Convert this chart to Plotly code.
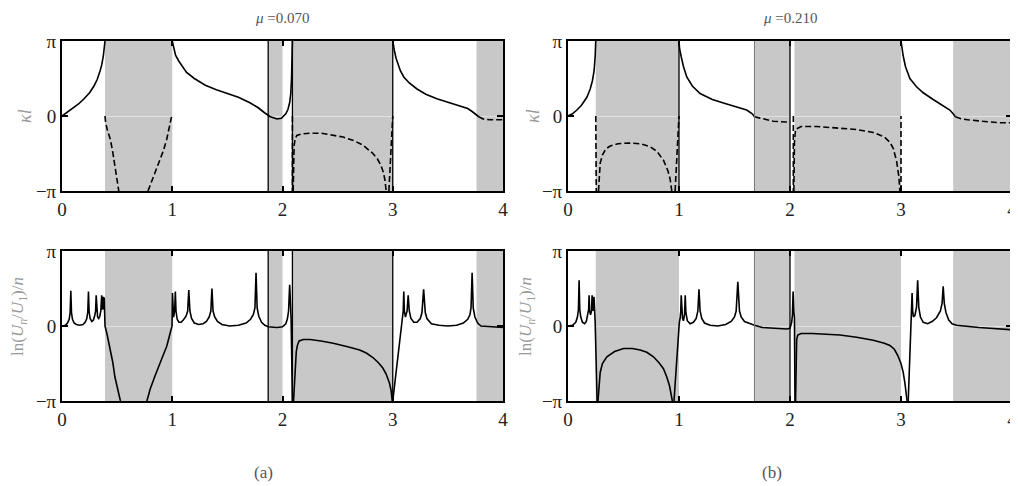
import plotly.graph_objects as go

# ---------------- data (y values in units of pi) ----------------
a_bands = [(0.39, 1.0), (1.87, 2.0), (2.09, 3.0), (3.76, 4.0)]
b_bands = [(0.25, 1.0), (1.68, 2.0), (2.04, 3.0), (3.47, 4.0)]
a_edges_black = [1.87, 2.09, 3.0]
b_edges_black_top = [1.0, 2.0]
b_edges_black_bot = [2.0]
b_edges_gray = [1.68]

a_kl_solid = [
    [(0, 0), (0.05, 0.05), (0.10, 0.10), (0.15, 0.16), (0.20, 0.23), (0.25, 0.31), (0.29, 0.40),
     (0.32, 0.49), (0.345, 0.60), (0.36, 0.68), (0.375, 0.80), (0.385, 0.91), (0.39, 1.0)],
    [(1.0, 1.0), (1.01, 0.92), (1.03, 0.81), (1.06, 0.73), (1.09, 0.66), (1.13, 0.58), (1.2, 0.50),
     (1.25, 0.45), (1.3, 0.41), (1.4, 0.35), (1.5, 0.30), (1.6, 0.25), (1.7, 0.18), (1.78, 0.11),
     (1.84, 0.04), (1.89, -0.01), (1.95, -0.04), (1.99, -0.03), (2.03, 0.03), (2.05, 0.09),
     (2.065, 0.18), (2.075, 0.3), (2.082, 0.5), (2.087, 0.75), (2.09, 1.0)],
    [(3.0, 1.0), (3.005, 0.95), (3.015, 0.87), (3.03, 0.77), (3.05, 0.67), (3.07, 0.6), (3.1, 0.52),
     (3.15, 0.44), (3.22, 0.36), (3.3, 0.29), (3.4, 0.23), (3.5, 0.18), (3.6, 0.14), (3.68, 0.10),
     (3.72, 0.06), (3.75, 0.02), (3.78, -0.01)],
]
a_kl_dash = [
    [(0.39, 0.0), (0.395, -0.08), (0.41, -0.18), (0.44, -0.32), (0.46, -0.48), (0.48, -0.66),
     (0.50, -0.84), (0.515, -1.0)],
    [(0.78, -1.0), (0.82, -0.85), (0.86, -0.71), (0.89, -0.59), (0.92, -0.46), (0.95, -0.31),
     (0.975, -0.15), (0.995, 0.0)],
    [(2.09, 0.0), (2.09, -1.0)],
    [(2.097, -1.0), (2.10, -0.6), (2.105, -0.4), (2.115, -0.30), (2.13, -0.26), (2.17, -0.24),
     (2.25, -0.23), (2.35, -0.23), (2.45, -0.25), (2.55, -0.28), (2.65, -0.33), (2.73, -0.39),
     (2.82, -0.50), (2.86, -0.57), (2.89, -0.65), (2.915, -0.75), (2.93, -0.86), (2.94, -1.0)],
    [(2.965, -1.0), (2.98, -0.6), (2.992, -0.3), (3.0, 0.0)],
    [(3.78, -0.01), (3.82, -0.04), (3.88, -0.05), (4.0, -0.05)],
]
a_ln = [
    [(0.00, 0.00), (0.03, 0.01), (0.05, 0.04), (0.065, 0.09), (0.074, 0.18), (0.080, 0.47), (0.086, 0.18),
     (0.095, 0.09), (0.11, 0.04), (0.13, 0.02), (0.16, 0.01), (0.19, 0.02), (0.21, 0.05), (0.225, 0.10),
     (0.234, 0.19), (0.240, 0.46), (0.246, 0.19), (0.255, 0.10), (0.27, 0.06), (0.285, 0.08),
     (0.297, 0.14), (0.305, 0.20), (0.310, 0.41), (0.315, 0.20), (0.323, 0.12), (0.333, 0.10),
     (0.343, 0.13), (0.352, 0.20), (0.360, 0.41), (0.365, 0.22), (0.370, 0.24), (0.375, 0.39),
     (0.379, 0.22), (0.383, 0.38), (0.386, 0.25), (0.390, 0.00), (0.41, -0.12), (0.435, -0.28),
     (0.46, -0.48), (0.48, -0.68), (0.505, -0.86), (0.53, -1.00)],
    [(0.77, -1.0), (0.80, -0.84), (0.84, -0.68), (0.88, -0.52), (0.92, -0.38), (0.95, -0.27),
     (0.975, -0.14), (0.99, -0.05), (0.998, 0.0), (1.002, 0.44), (1.006, 0.15), (1.012, 0.12),
     (1.022, 0.2), (1.028, 0.46), (1.034, 0.2), (1.045, 0.09), (1.06, 0.05), (1.08, 0.05), (1.10, 0.08),
     (1.125, 0.13), (1.14, 0.2), (1.15, 0.48), (1.16, 0.2), (1.175, 0.1), (1.20, 0.04), (1.24, 0.02),
     (1.28, 0.03), (1.31, 0.06), (1.335, 0.12), (1.35, 0.2), (1.36, 0.50), (1.37, 0.2), (1.385, 0.12),
     (1.41, 0.06), (1.45, 0.02), (1.52, 0.0), (1.60, 0.01), (1.67, 0.04), (1.71, 0.09), (1.735, 0.15),
     (1.75, 0.24), (1.76, 0.71), (1.77, 0.24), (1.785, 0.13), (1.81, 0.05), (1.84, 0.01), (1.87, -0.01),
     (1.95, -0.02), (2.00, -0.01), (2.03, 0.03), (2.045, 0.1), (2.055, 0.2), (2.065, 0.55),
     (2.072, 0.25), (2.078, 0.1), (2.09, -1.0)],
    [(2.10, -1.0), (2.115, -0.55), (2.125, -0.34), (2.135, -0.26), (2.15, -0.2), (2.19, -0.18),
     (2.25, -0.18), (2.35, -0.2), (2.46, -0.23), (2.6, -0.28), (2.7, -0.32), (2.76, -0.36), (2.82, -0.42),
     (2.87, -0.49), (2.91, -0.56), (2.94, -0.64), (2.97, -0.76), (2.985, -0.86), (2.995, -1.0)],
    [(3.0, -1.0), (3.03, -0.6), (3.06, -0.25), (3.08, 0.05), (3.09, 0.12), (3.095, 0.2), (3.10, 0.46),
     (3.105, 0.2), (3.115, 0.12), (3.13, 0.2), (3.14, 0.41), (3.15, 0.2), (3.165, 0.1), (3.19, 0.05),
     (3.22, 0.05), (3.25, 0.1), (3.265, 0.18), (3.28, 0.49), (3.295, 0.18), (3.31, 0.1), (3.35, 0.03),
     (3.42, 0.01), (3.5, 0.0), (3.58, 0.01), (3.64, 0.04), (3.68, 0.09), (3.70, 0.15), (3.71, 0.24),
     (3.72, 0.71), (3.73, 0.24), (3.745, 0.12), (3.77, 0.04), (3.80, 0.0), (3.9, -0.01), (4.0, -0.02)],
]

b_kl_solid = [
    [(0, 0), (0.04, 0.03), (0.08, 0.08), (0.12, 0.14), (0.17, 0.25), (0.2, 0.36), (0.22, 0.47),
     (0.235, 0.6), (0.245, 0.8), (0.25, 1.0)],
    [(1.0, 1.0), (1.005, 0.9), (1.02, 0.79), (1.04, 0.66), (1.07, 0.52), (1.12, 0.40), (1.19, 0.30),
     (1.3, 0.22), (1.43, 0.16), (1.52, 0.12), (1.61, 0.08), (1.66, 0.03), (1.68, -0.01)],
    [(3.0, 1.0), (3.005, 0.93), (3.02, 0.8), (3.04, 0.66), (3.08, 0.5), (3.14, 0.39), (3.2, 0.31),
     (3.29, 0.22), (3.37, 0.15), (3.44, 0.08), (3.47, 0.03), (3.49, -0.01)],
]
b_kl_dash = [
    [(0.25, 0.0), (0.255, -1.0)],
    [(0.275, -1.0), (0.28, -0.8), (0.29, -0.63), (0.31, -0.52), (0.34, -0.44), (0.38, -0.40),
     (0.45, -0.37), (0.55, -0.36), (0.65, -0.37), (0.74, -0.41), (0.8, -0.47), (0.86, -0.59),
     (0.9, -0.73), (0.92, -0.84), (0.935, -1.0)],
    [(0.965, -1.0), (0.98, -0.6), (0.995, -0.2), (1.0, 0.0)],
    [(1.68, -0.01), (1.73, -0.03), (1.79, -0.05), (1.85, -0.07), (1.97, -0.08), (2.0, -0.08)],
    [(2.03, 0.0), (2.03, -1.0)],
    [(2.035, -1.0), (2.04, -0.35), (2.05, -0.18), (2.1, -0.14), (2.24, -0.14), (2.45, -0.16),
     (2.6, -0.18), (2.75, -0.22), (2.85, -0.28), (2.9, -0.35), (2.93, -0.43), (2.96, -0.6),
     (2.98, -0.8), (2.99, -1.0)],
    [(3.0, -1.0), (3.0, 0.0)],
    [(3.49, -0.01), (3.55, -0.04), (3.6, -0.05), (3.7, -0.07), (3.8, -0.08), (3.9, -0.09), (4.0, -0.09)],
]
b_ln = [
    [(0.0, 0.0), (0.04, 0.01), (0.07, 0.05), (0.085, 0.12), (0.094, 0.22), (0.10, 0.61), (0.106, 0.22),
     (0.115, 0.12), (0.13, 0.05), (0.15, 0.03), (0.165, 0.06), (0.178, 0.14), (0.186, 0.22), (0.19, 0.41),
     (0.195, 0.2), (0.203, 0.15), (0.212, 0.2), (0.217, 0.41), (0.222, 0.2), (0.228, 0.2), (0.234, 0.39),
     (0.238, 0.22), (0.242, 0.3), (0.245, 0.05), (0.262, -1.0)],
    [(0.27, -1.0), (0.28, -0.78), (0.29, -0.62), (0.31, -0.50), (0.35, -0.41), (0.42, -0.34), (0.5, -0.30),
     (0.58, -0.30), (0.65, -0.32), (0.71, -0.35), (0.77, -0.41), (0.82, -0.49), (0.86, -0.57),
     (0.89, -0.68), (0.915, -0.8), (0.93, -0.92), (0.94, -1.0)],
    [(0.955, -1.0), (0.97, -0.62), (0.985, -0.3), (0.998, 0.0), (1.003, 0.05), (1.01, 0.1), (1.016, 0.2),
     (1.02, 0.41), (1.025, 0.2), (1.032, 0.1), (1.04, 0.07), (1.05, 0.15), (1.056, 0.41), (1.062, 0.18),
     (1.075, 0.07), (1.1, 0.03), (1.13, 0.05), (1.155, 0.1), (1.17, 0.2), (1.18, 0.49), (1.19, 0.2),
     (1.205, 0.1), (1.23, 0.04), (1.28, 0.01), (1.35, 0.0), (1.42, 0.02), (1.47, 0.06), (1.5, 0.12),
     (1.515, 0.2), (1.53, 0.59), (1.545, 0.2), (1.56, 0.12), (1.59, 0.06), (1.64, 0.03), (1.68, 0.01),
     (1.75, -0.02), (1.85, -0.03), (1.97, -0.04), (2.0, -0.03), (2.015, 0.05), (2.022, 0.15),
     (2.028, 0.46), (2.034, 0.2), (2.04, 0.1), (2.045, -1.0)],
    [(2.05, -1.0), (2.055, -0.5), (2.06, -0.18), (2.07, -0.12), (2.1, -0.1), (2.2, -0.1), (2.3, -0.11),
     (2.45, -0.12), (2.6, -0.15), (2.75, -0.19), (2.85, -0.23), (2.9, -0.26), (2.94, -0.31),
     (2.97, -0.39), (3.0, -0.5), (3.02, -0.62), (3.035, -0.76), (3.045, -0.88), (3.055, -1.0)],
    [(3.065, -1.0), (3.075, -0.5), (3.085, 0.02), (3.09, 0.1), (3.095, 0.2), (3.10, 0.44), (3.105, 0.2),
     (3.112, 0.12), (3.125, 0.14), (3.14, 0.25), (3.15, 0.61), (3.16, 0.25), (3.175, 0.12), (3.2, 0.05),
     (3.24, 0.03), (3.28, 0.06), (3.32, 0.11), (3.355, 0.2), (3.37, 0.3), (3.38, 0.53), (3.39, 0.3),
     (3.405, 0.18), (3.43, 0.08), (3.46, 0.03), (3.5, 0.01), (3.6, -0.01), (3.7, -0.02), (3.8, -0.03),
     (3.9, -0.04), (4.0, -0.05)],
]

x_ticks = [0, 1, 2, 3, 4]
y_ticks = [-1, 0, 1]
y_ticktext = ["\u2212\u03c0", "0", "\u03c0"]
titles = ["<i>\u03bc</i> =0.070", "<i>\u03bc</i> =0.210"]
captions = ["(a)", "(b)"]

# ---------------- figure ----------------
W, H = 1018, 486
OFF = 8  # page body margin of the rendering browser
SERIF = "Liberation Serif, DejaVu Serif, serif"
GRAY = "#c8c8c8"


def fx(px):
    return (px - OFF) / W


def fy(py):
    return 1 - (py - OFF) / H


panels = {
    "aTop": ((62, 503), (41, 191)),
    "bTop": ((568, 1012), (41, 191)),
    "aBot": ((62, 503), (251, 401)),
    "bBot": ((568, 1012), (251, 401)),
}
order = ["aTop", "bTop", "aBot", "bBot"]

fig = go.Figure()
layout = dict(width=W, height=H, margin=dict(l=0, r=0, t=0, b=0, pad=0, autoexpand=False),
              template="none",
              paper_bgcolor="white", plot_bgcolor="white", showlegend=False,
              font=dict(family=SERIF, color="#222"))
shapes = []
annotations = []


def flatten(segs):
    xs, ys = [], []
    for s in segs:
        for p in s:
            xs.append(p[0])
            ys.append(p[1])
        xs.append(None)
        ys.append(None)
    return xs, ys


for i, name in enumerate(order):
    k = "" if i == 0 else str(i + 1)
    (x0, x1), (yt, yb) = panels[name]
    layout["xaxis" + k] = dict(domain=[fx(x0), fx(x1)], range=[0, 4], anchor="y" + k,
                               automargin=False,
                               tickvals=x_ticks, ticks="inside", ticklen=5, tickwidth=1.5,
                               tickcolor="black", showline=True, linecolor="black", linewidth=2,
                               mirror="allticks", showgrid=False, zeroline=False,
                               ticklabeloverflow="allow",
                               tickfont=dict(family=SERIF, size=19, color="#222"))
    layout["yaxis" + k] = dict(domain=[fy(yb), fy(yt)], range=[-1, 1], anchor="x" + k,
                               automargin=False,
                               tickvals=y_ticks, ticktext=y_ticktext, ticks="inside", ticklen=6,
                               tickwidth=1.5, tickcolor="black", showline=True, linecolor="black",
                               linewidth=2, mirror="allticks", showgrid=False, zeroline=True,
                               zerolinecolor="rgba(255,255,255,0.45)", zerolinewidth=1,
                               tickfont=dict(family=SERIF, size=19, color="#222"))
    xr, yr = "x" + k, "y" + k
    bands = a_bands if name.startswith("a") else b_bands
    for (b0, b1) in bands:
        shapes.append(dict(type="rect", xref=xr, yref="paper", x0=b0, x1=b1,
                           y0=fy(yb), y1=fy(yt),
                           fillcolor=GRAY, line=dict(width=0), layer="below"))
    if name.startswith("a"):
        blk = a_edges_black
        gry = []
    else:
        blk = b_edges_black_top if name == "bTop" else b_edges_black_bot
        gry = b_edges_gray
    for e in blk:
        shapes.append(dict(type="line", xref=xr, yref="paper", x0=e, x1=e, y0=fy(yb), y1=fy(yt),
                           line=dict(color="black", width=1.3), layer="above"))
    for e in gry:
        shapes.append(dict(type="line", xref=xr, yref="paper", x0=e, x1=e, y0=fy(yb), y1=fy(yt),
                           line=dict(color="#777", width=1), layer="above"))

    if name == "aTop":
        sets = [(a_kl_solid, "solid"), (a_kl_dash, "6px,3px")]
    elif name == "bTop":
        sets = [(b_kl_solid, "solid"), (b_kl_dash, "6px,3px")]
    elif name == "aBot":
        sets = [(a_ln, "solid")]
    else:
        sets = [(b_ln, "solid")]
    for segs, dash in sets:
        xs, ys = flatten(segs)
        fig.add_trace(go.Scatter(x=xs, y=ys, mode="lines", xaxis=xr, yaxis=yr,
                                 line=dict(color="black", width=1.6, dash=dash),
                                 connectgaps=False, hoverinfo="skip"))

for cx, t in zip([282, 790], titles):
    annotations.append(dict(xref="paper", yref="paper", x=fx(cx), y=fy(18), text=t, showarrow=False,
                            font=dict(family=SERIF, size=15, color="#555"), xanchor="center",
                            yanchor="middle"))
for cx, c in zip([263, 772], captions):
    annotations.append(dict(xref="paper", yref="paper", x=fx(cx), y=fy(472), text=c, showarrow=False,
                            font=dict(family=SERIF, size=17, color="#555"), xanchor="center",
                            yanchor="middle"))
for lx in [25, 533]:
    annotations.append(dict(xref="paper", yref="paper", x=fx(lx), y=fy(116), text="<i>\u03bal</i>",
                            showarrow=False, textangle=-90,
                            font=dict(family=SERIF, size=18, color="#999"),
                            xanchor="center", yanchor="middle"))
    annotations.append(dict(xref="paper", yref="paper", x=fx(lx - 6), y=fy(317),
                            text="ln(<i>U</i><sub><i>n</i></sub>/<i>U</i><sub>1</sub>)/<i>n</i>",
                            showarrow=False, textangle=-90,
                            font=dict(family=SERIF, size=17, color="#999"),
                            xanchor="center", yanchor="middle"))

layout["shapes"] = shapes
layout["annotations"] = annotations
fig.update_layout(**layout)
fig.write_html("out.html")
